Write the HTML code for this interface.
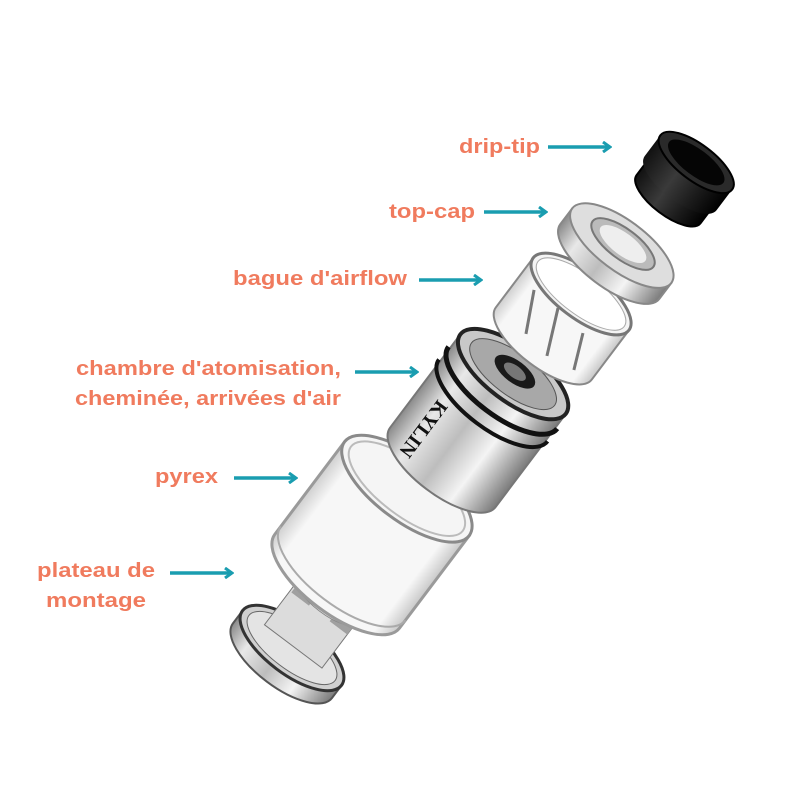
<!DOCTYPE html>
<html><head><meta charset="utf-8"><style>
html,body{margin:0;padding:0;background:#fff;}
svg{display:block}
.t{font-family:"Liberation Sans",sans-serif;font-weight:bold;font-size:20px;fill:#f07b5e;}
</style></head><body>
<svg width="800" height="800" viewBox="0 0 800 800" xmlns="http://www.w3.org/2000/svg">
<defs>
<linearGradient id="sil" x1="0" x2="1" y1="0" y2="0">
<stop offset="0" stop-color="#8a8a8a"/><stop offset="0.2" stop-color="#e8e8e8"/><stop offset="0.45" stop-color="#bdbdbd"/><stop offset="0.7" stop-color="#f4f4f4"/><stop offset="1" stop-color="#7a7a7a"/>
</linearGradient>
<linearGradient id="blk" x1="0" x2="1"><stop offset="0" stop-color="#111"/><stop offset="0.4" stop-color="#3a3a3a"/><stop offset="0.7" stop-color="#1c1c1c"/><stop offset="1" stop-color="#000"/></linearGradient>
<linearGradient id="gl" x1="0" x2="1"><stop offset="0" stop-color="#cfcfcf"/><stop offset="0.12" stop-color="#f7f7f7"/><stop offset="0.88" stop-color="#f7f7f7"/><stop offset="1" stop-color="#c8c8c8"/></linearGradient>
<marker id="ar" markerWidth="10" markerHeight="12" refX="8" refY="6" orient="auto" markerUnits="userSpaceOnUse">
<path d="M1,1 L8,6 L1,11" fill="none" stroke="#1a9db0" stroke-width="3"/></marker>
</defs>

<g stroke="#1a9db0" stroke-width="3.5" marker-end="url(#ar)">
<line x1="548" y1="147" x2="610" y2="147"/>
<line x1="484" y1="212" x2="546" y2="212"/>
<line x1="419" y1="280" x2="481" y2="280"/>
<line x1="355" y1="372" x2="417" y2="372"/>
<line x1="234" y1="478" x2="296" y2="478"/>
<line x1="170" y1="573" x2="232" y2="573"/>
</g>

<g class="t" lengthAdjust="spacingAndGlyphs">
<text class="t" x="459" y="153" textLength="81" lengthAdjust="spacingAndGlyphs">drip-tip</text>
<text class="t" x="389" y="218" textLength="86" lengthAdjust="spacingAndGlyphs">top-cap</text>
<text class="t" x="233" y="285" textLength="174" lengthAdjust="spacingAndGlyphs">bague d'airflow</text>
<text class="t" x="76" y="375" textLength="265" lengthAdjust="spacingAndGlyphs">chambre d'atomisation,</text>
<text class="t" x="75" y="405" textLength="266" lengthAdjust="spacingAndGlyphs">cheminée, arrivées d'air</text>
<text class="t" x="155" y="483" textLength="63" lengthAdjust="spacingAndGlyphs">pyrex</text>
<text class="t" x="37" y="577" textLength="118" lengthAdjust="spacingAndGlyphs">plateau de</text>
<text class="t" x="46" y="607" textLength="100" lengthAdjust="spacingAndGlyphs">montage</text>
</g>

<!-- plateau -->
<g transform="translate(292,648) rotate(37)">
<path d="M-62,0 L-62,16 A62,26 0 0 0 62,16 L62,0 Z" fill="url(#sil)" stroke="#555" stroke-width="2"/>
<ellipse cx="0" cy="0" rx="62" ry="26" fill="#d0d0d0" stroke="#333" stroke-width="3"/>
<ellipse cx="0" cy="0" rx="54" ry="21" fill="#e4e4e4" stroke="#666"/>
<rect x="-36" y="-58" width="72" height="56" fill="#dcdcdc" stroke="#777"/>
<rect x="-34" y="-66" width="22" height="22" fill="#a0a0a0"/>
<rect x="14" y="-66" width="22" height="22" fill="#a0a0a0"/>
<ellipse cx="0" cy="-58" rx="36" ry="12" fill="#eee" stroke="#888"/>
</g>

<!-- pyrex -->
<g transform="translate(372,535) rotate(37)">
<path d="M-78,-58 L-78,58 A78,32 0 0 0 78,58 L78,-58 Z" fill="url(#gl)" stroke="#9a9a9a" stroke-width="3"/>
<ellipse cx="0" cy="-58" rx="78" ry="32" fill="#f5f5f5" stroke="#8a8a8a" stroke-width="3"/>
<ellipse cx="0" cy="-58" rx="70" ry="27" fill="none" stroke="#bbb" stroke-width="2"/>
<path d="M-78,48 A78,32 0 0 0 78,48" fill="none" stroke="#aaa" stroke-width="2"/>
</g>

<!-- chamber -->
<g transform="translate(480,418) rotate(37)">
<path d="M-66,-55 L-66,62 A66,27 0 0 0 66,62 L66,-55 Z" fill="url(#sil)" stroke="#777" stroke-width="2"/>
<path d="M-68,-38 A68,28 0 0 0 68,-38" fill="none" stroke="#111" stroke-width="5"/>
<path d="M-68,-22 A68,28 0 0 0 68,-22" fill="none" stroke="#111" stroke-width="4"/>
<ellipse cx="0" cy="-55" rx="66" ry="27" fill="#c8c8c8" stroke="#222" stroke-width="4"/>
<ellipse cx="0" cy="-55" rx="52" ry="21" fill="#a8a8a8" stroke="#555"/>
<ellipse cx="0" cy="-58" rx="24" ry="11" fill="#1a1a1a"/>
<ellipse cx="0" cy="-58" rx="13" ry="6" fill="#777"/>
<text x="-45" y="10" transform="rotate(90 -45 10)" font-family="Liberation Serif,serif" font-weight="bold" font-size="20" fill="#111">KYLIN</text>
</g>

<!-- airflow ring -->
<g transform="translate(563,318) rotate(37)">
<path d="M-60,-30 L-60,32 A60,24 0 0 0 60,32 L60,-30 Z" fill="url(#gl)" stroke="#888" stroke-width="2"/>
<path d="M-40,-5 L-20,35 M-10,-5 L10,40 M25,0 L40,35" stroke="#777" stroke-width="3" fill="none"/>
<ellipse cx="0" cy="-30" rx="60" ry="24" fill="#f4f4f4" stroke="#777" stroke-width="3"/>
<ellipse cx="0" cy="-30" rx="54" ry="20" fill="#fff" stroke="#aaa"/>
</g>

<!-- top-cap -->
<g transform="translate(617,252) rotate(37)">
<path d="M-62,-8 L-62,12 A62,25 0 0 0 62,12 L62,-8 Z" fill="url(#sil)" stroke="#888" stroke-width="2"/>
<ellipse cx="0" cy="-8" rx="62" ry="25" fill="#dedede" stroke="#888" stroke-width="2"/>
<ellipse cx="0" cy="-10" rx="38" ry="15" fill="#bbb" stroke="#777" stroke-width="2"/>
<ellipse cx="0" cy="-10" rx="28" ry="11" fill="#eee"/>
</g>

<!-- drip-tip -->
<g transform="translate(683,180) rotate(37)">
<path d="M-40,-20 L-40,24 A40,16 0 0 0 40,24 L40,-20 Z" fill="url(#blk)" stroke="#000" stroke-width="2"/>
<path d="M-45,-22 L-45,4 A45,18 0 0 0 45,4 L45,-22 Z" fill="url(#blk)"/>
<ellipse cx="0" cy="-22" rx="45" ry="18" fill="#2a2a2a" stroke="#000" stroke-width="2"/>
<ellipse cx="0" cy="-22" rx="34" ry="13" fill="#050505"/>
</g>
</svg>
</body></html>
